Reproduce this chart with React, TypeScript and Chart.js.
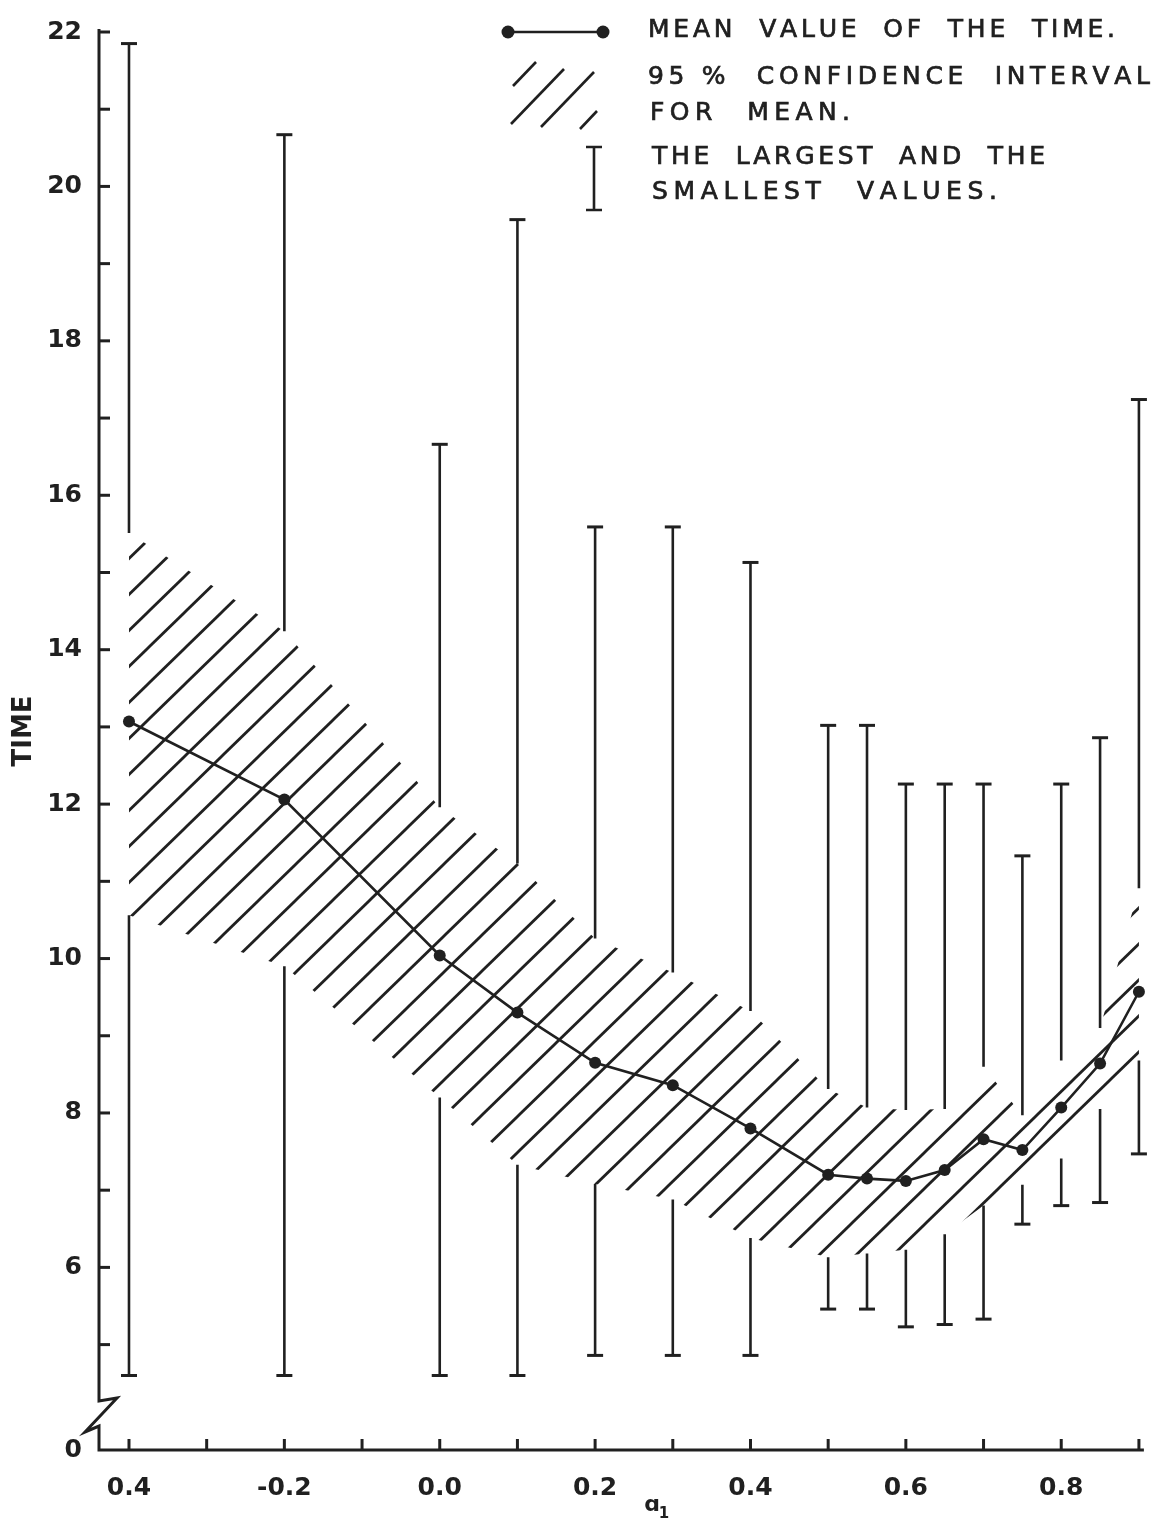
import React, { useEffect, useRef } from "react";
import { Chart, registerables } from "chart.js";

Chart.register(...registerables);

// ---------------- data ----------------
const ALPHA = [-0.4, -0.2, 0.0, 0.1, 0.2, 0.3, 0.4, 0.5, 0.55, 0.6, 0.65, 0.7, 0.75, 0.8, 0.85, 0.9];
const MEAN_TIME = [13.07, 12.06, 10.04, 9.3, 8.65, 8.36, 7.8, 7.2, 7.15, 7.12, 7.26, 7.66, 7.52, 8.07, 8.64, 9.57];
const CI_UPPER = [15.51, 14.24, 11.96, 11.23, 10.26, 9.82, 9.32, 8.31, 8.07, 8.04, 8.05, 8.6, 7.97, 8.68, 9.1, 10.91];
const CI_LOWER = [10.56, 9.9, 8.2, 7.33, 7.08, 6.88, 6.38, 6.13, 6.18, 6.23, 6.43, 6.8, 7.07, 7.41, 8.05, 8.68];
const LARGEST = [21.85, 20.67, 16.66, 19.57, 15.59, 15.59, 15.13, 13.02, 13.02, 12.26, 12.26, 12.26, 11.33, 12.26, 12.86, 17.24];
const SMALLEST = [4.6, 4.6, 4.6, 4.6, 4.86, 4.86, 4.86, 5.46, 5.46, 5.23, 5.26, 5.33, 6.56, 6.8, 6.84, 7.47];

const X_LABELED = [-0.4, -0.2, 0.0, 0.2, 0.4, 0.6, 0.8];
const X_LABELS = ["0.4", "-0.2", "0.0", "0.2", "0.4", "0.6", "0.8"];
const X_MINOR = [-0.3, -0.1, 0.1, 0.3, 0.5, 0.7, 0.9];
const Y_LABELED = [6, 8, 10, 12, 14, 16, 18, 20, 22];
const Y_LABELS = ["6", "8", "10", "12", "14", "16", "18", "20", "22"];
const Y_MINOR = [5, 7, 9, 11, 13, 15, 17, 19, 21];
const Y_BREAK_LABEL = "0";

const Y_TITLE = "TIME";
const X_TITLE = "ɑ";
const X_TITLE_SUB = "1";
const LEGEND_LINES = [
  "MEAN VALUE OF THE TIME.",
  "95\u00a0% CONFIDENCE INTERVAL",
  "FOR MEAN.",
  "THE LARGEST AND THE",
  "SMALLEST VALUES.",
];

// ---------------- layout / style ----------------
const W = 1162;
const H = 1519;
const X_MIN = -0.4386;
const X_MAX = 0.9064;
const Y_MIN = 3.635;
const Y_MAX = 22;
const INK = "#202020";
const FONT = '"DejaVu Sans", sans-serif';

function makeHatch(): CanvasPattern | string {
  const w = 37;
  const h = 36;
  const c = document.createElement("canvas");
  c.width = w;
  c.height = h;
  const g = c.getContext("2d");
  if (!g) return "rgba(0,0,0,0.2)";
  g.strokeStyle = INK;
  g.lineWidth = 2.8;
  for (const k of [-1, 0, 1]) {
    g.beginPath();
    g.moveTo(-w, 2 * h + k * h);
    g.lineTo(2 * w, -h + k * h);
    g.stroke();
  }
  const ctx = document.createElement("canvas").getContext("2d");
  const p = ctx ? ctx.createPattern(c, "repeat") : null;
  return p || "rgba(0,0,0,0.2)";
}

function drawSpaced(ctx: CanvasRenderingContext2D, text: string, x0: number, x1: number, cy: number) {
  const words = text.split(" ");
  const spaceW = ctx.measureText(" ").width;
  const WG = 5;
  let G = 0;
  let nL = 0;
  for (const w of words) {
    for (const ch of w) G += ctx.measureText(ch).width;
    nL += Array.from(w).length - 1;
  }
  const nW = words.length - 1;
  let ls = (x1 - x0 - G - nW * spaceW) / (nL + WG * nW);
  if (ls < 0) ls = 0;
  let x = x0;
  words.forEach((w, wi) => {
    const chars = Array.from(w);
    chars.forEach((ch, ci) => {
      ctx.strokeText(ch, x, cy);
      ctx.fillText(ch, x, cy);
      x += ctx.measureText(ch).width;
      if (ci < chars.length - 1) x += ls;
    });
    if (wi < words.length - 1) x += spaceW + WG * ls;
  });
}

const framePlugin = {
  id: "frame",
  afterDraw(chart: any) {
    const { ctx, chartArea } = chart;
    const { left, right, top, bottom } = chartArea;
    const xs = chart.scales.x;
    const ys = chart.scales.y;
    ctx.save();
    ctx.strokeStyle = INK;
    ctx.fillStyle = INK;
    ctx.lineWidth = 3;
    ctx.lineJoin = "miter";
    // axes with break on the y axis
    ctx.beginPath();
    ctx.moveTo(left, top - 3);
    ctx.lineTo(left, bottom - 49);
    ctx.lineTo(left + 18, bottom - 52);
    ctx.lineTo(left - 14, bottom - 18);
    ctx.lineTo(left, bottom - 24);
    ctx.lineTo(left, bottom);
    ctx.lineTo(right, bottom);
    ctx.stroke();
    // y ticks (inward)
    for (const v of [...Y_LABELED, ...Y_MINOR]) {
      const py = ys.getPixelForValue(v);
      ctx.beginPath();
      ctx.moveTo(left, py);
      ctx.lineTo(left + 11, py);
      ctx.stroke();
    }
    // x ticks (inward)
    for (const v of [...X_LABELED, ...X_MINOR]) {
      const px = xs.getPixelForValue(v);
      ctx.beginPath();
      ctx.moveTo(px, bottom);
      ctx.lineTo(px, bottom - 11);
      ctx.stroke();
    }
    // axis titles
    ctx.font = `bold 26px ${FONT}`;
    ctx.textAlign = "center";
    ctx.textBaseline = "middle";
    ctx.save();
    ctx.translate(24, 731);
    ctx.rotate(-Math.PI / 2);
    ctx.fillText(Y_TITLE, 0, 0);
    ctx.restore();
    ctx.font = `bold 22px ${FONT}`;
    ctx.fillText(X_TITLE, 652, 1505);
    ctx.font = `bold 15px ${FONT}`;
    ctx.fillText(X_TITLE_SUB, 664, 1514);

    // ---- legend ----
    ctx.lineWidth = 2.6;
    ctx.lineCap = "butt";
    ctx.beginPath();
    ctx.moveTo(508, 32);
    ctx.lineTo(603, 32);
    ctx.stroke();
    for (const cx of [508, 603]) {
      ctx.beginPath();
      ctx.arc(cx, 32, 6.5, 0, Math.PI * 2);
      ctx.fill();
    }
    const segs = [
      [513, 86, 536, 62],
      [511, 124, 564, 69],
      [541, 127, 594, 72],
      [580, 129, 597, 111],
    ];
    for (const s of segs) {
      ctx.beginPath();
      ctx.moveTo(s[0], s[1]);
      ctx.lineTo(s[2], s[3]);
      ctx.stroke();
    }
    ctx.beginPath();
    ctx.moveTo(594, 147);
    ctx.lineTo(594, 210);
    ctx.moveTo(586, 147);
    ctx.lineTo(602, 147);
    ctx.moveTo(586, 210);
    ctx.lineTo(602, 210);
    ctx.stroke();
    ctx.font = `25px ${FONT}`;
    ctx.lineWidth = 0.7;
    ctx.textAlign = "left";
    ctx.textBaseline = "middle";
    drawSpaced(ctx, LEGEND_LINES[0], 648, 1115, 30);
    drawSpaced(ctx, LEGEND_LINES[1], 648, 1150, 77);
    drawSpaced(ctx, LEGEND_LINES[2], 650, 850, 113);
    drawSpaced(ctx, LEGEND_LINES[3], 652, 1045, 157);
    drawSpaced(ctx, LEGEND_LINES[4], 652, 997, 192);
    ctx.restore();
  },
};

export default function App() {
  const ref = useRef<HTMLCanvasElement>(null);
  useEffect(() => {
    const canvas = ref.current;
    if (!canvas) return;
    const hatch = makeHatch();

    const whiskerData: any[] = [];
    ALPHA.forEach((x, i) => {
      whiskerData.push({ x, y: LARGEST[i] }, { x, y: CI_UPPER[i] }, { x, y: null });
      whiskerData.push({ x, y: CI_LOWER[i] }, { x, y: SMALLEST[i] }, { x, y: null });
    });
    const capData: any[] = [];
    ALPHA.forEach((x, i) => {
      capData.push({ x, y: LARGEST[i] }, { x, y: SMALLEST[i] });
    });

    const chart = new Chart(canvas, {
      type: "scatter",
      data: {
        datasets: [
          {
            label: "MEAN",
            data: ALPHA.map((x, i) => ({ x, y: MEAN_TIME[i] })),
            showLine: true,
            borderColor: INK,
            borderWidth: 2.6,
            pointRadius: 6,
            pointBackgroundColor: INK,
            pointBorderWidth: 0,
            tension: 0,
            clip: false,
          } as any,
          {
            label: "caps",
            data: capData,
            showLine: false,
            pointStyle: "line",
            pointRadius: 8,
            pointBorderWidth: 3,
            pointBorderColor: INK,
            clip: false,
          } as any,
          {
            label: "range",
            data: whiskerData,
            showLine: true,
            spanGaps: false,
            borderColor: INK,
            borderWidth: 2.6,
            pointRadius: 0,
            tension: 0,
            clip: false,
          } as any,
          {
            label: "CI upper",
            data: ALPHA.map((x, i) => ({ x, y: CI_UPPER[i] })),
            showLine: true,
            borderWidth: 0,
            borderColor: "rgba(0,0,0,0)",
            pointRadius: 0,
            backgroundColor: hatch,
            fill: "+1",
            tension: 0,
          } as any,
          {
            label: "CI lower",
            data: ALPHA.map((x, i) => ({ x, y: CI_LOWER[i] })),
            showLine: true,
            borderWidth: 0,
            borderColor: "rgba(0,0,0,0)",
            pointRadius: 0,
            fill: false,
            tension: 0,
          } as any,
        ],
      },
      options: {
        responsive: false,
        maintainAspectRatio: false,
        devicePixelRatio: 1,
        animation: false,
        events: [],
        layout: { padding: { top: 23, right: 17, bottom: 0, left: 0 } },
        plugins: {
          legend: { display: false },
          tooltip: { enabled: false },
        },
        scales: {
          x: {
            type: "linear",
            position: "bottom",
            min: X_MIN,
            max: X_MAX,
            bounds: "data",
            offset: false,
            grid: { display: false, drawTicks: false },
            border: { display: false },
            afterFit: (s: any) => {
              s.height = H - 1450;
            },
            afterBuildTicks: (s: any) => {
              s.ticks = [...X_LABELED, ...X_MINOR].sort((a, b) => a - b).map((v) => ({ value: v }));
            },
            ticks: {
              autoSkip: false,
              maxRotation: 0,
              minRotation: 0,
              padding: 23,
              color: INK,
              font: { family: "DejaVu Sans", size: 25, weight: "bold" },
              callback: (v: any) => {
                const j = X_LABELED.findIndex((t) => Math.abs(t - Number(v)) < 1e-6);
                return j >= 0 ? X_LABELS[j] : "";
              },
            },
          },
          y: {
            type: "linear",
            min: Y_MIN,
            max: Y_MAX,
            bounds: "data",
            grid: { display: false, drawTicks: false },
            border: { display: false },
            afterFit: (s: any) => {
              s.width = 99;
            },
            afterBuildTicks: (s: any) => {
              s.ticks = [Y_MIN, ...Y_LABELED, ...Y_MINOR].sort((a, b) => a - b).map((v) => ({ value: v }));
            },
            ticks: {
              autoSkip: false,
              padding: 17,
              color: INK,
              font: { family: "DejaVu Sans", size: 25, weight: "bold" },
              callback: (v: any) => {
                const n = Number(v);
                if (Math.abs(n - Y_MIN) < 1e-6) return Y_BREAK_LABEL;
                const j = Y_LABELED.findIndex((t) => Math.abs(t - n) < 1e-6);
                return j >= 0 ? Y_LABELS[j] : "";
              },
            },
          },
        },
      } as any,
      plugins: [framePlugin],
    });
    return () => chart.destroy();
  }, []);

  return (
    <div style={{ position: "absolute", left: 0, top: 0, width: W, height: H, background: "#fff" }}>
      <canvas ref={ref} width={W} height={H} style={{ width: W, height: H, display: "block" }} />
    </div>
  );
}
